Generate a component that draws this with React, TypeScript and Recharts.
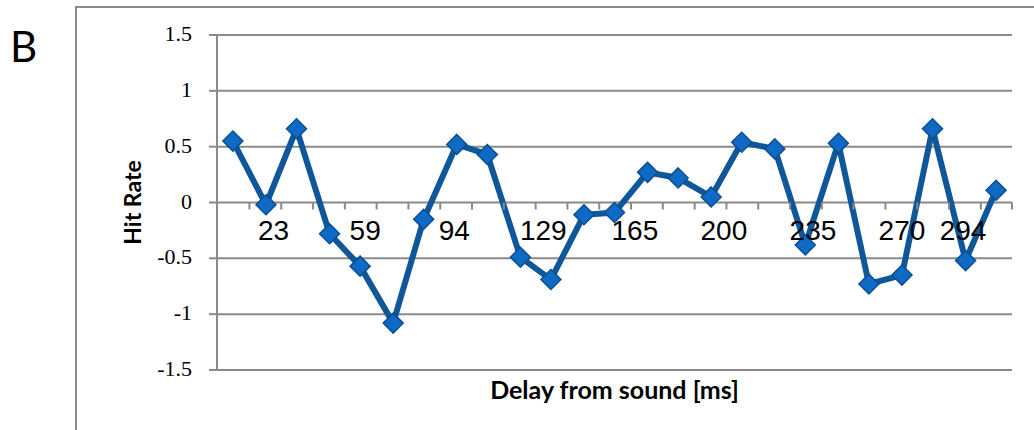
import React from "react";
import { LineChart, Line, XAxis, YAxis, CartesianGrid } from "recharts";

// delay bins (ms) and hit rate per bin
const delays = [7, 20, 32, 45, 57, 70, 82, 95, 107, 120, 132, 145, 157, 170, 182, 195, 207, 220, 232, 245, 257, 270, 282, 295, 307];
const hitRate = [0.55, -0.02, 0.66, -0.28, -0.57, -1.08, -0.15, 0.52, 0.43, -0.49, -0.69, -0.11, -0.09, 0.27, 0.22, 0.05, 0.54, 0.48, -0.38, 0.53, -0.73, -0.65, 0.66, -0.52, 0.11];
const xLabels = [23, 59, 94, 129, 165, 200, 235, 270, 294];
const yTicks = [-1.5, -1, -0.5, 0, 0.5, 1, 1.5];

const W = 1034;
const H = 430;
const MARGIN = { top: 35, right: 22, bottom: 30, left: 117 };
const X_AXIS_H = 30;
const PLOT_H = H - MARGIN.top - MARGIN.bottom - X_AXIS_H;
const GRID = "#8a8a8a";
const LINE = "#0f5799";

const data = delays.map((d, i) => ({ delay: d, hit: hitRate[i] }));

const step = (delays[delays.length - 1] - delays[0]) / (delays.length - 1);
const boundaries = delays.map((d, i) => (i < delays.length - 1 ? (d + delays[i + 1]) / 2 : d + step / 2));
const xTicks = [...boundaries, ...xLabels].sort((a, b) => a - b);
const labelSet = new Set(xLabels);

function XTick(props: any) {
  const { x, y, payload } = props;
  // the axis sits at y = 0, i.e. halfway up the plot
  const y0 = y - PLOT_H / 2;
  if (labelSet.has(payload.value)) {
    return (
      <text x={x} y={y0 + 37} textAnchor="middle" style={{ fontFamily: "'Liberation Sans', Arial, sans-serif", fontSize: 28 }} fill="#000">
        {payload.value}
      </text>
    );
  }
  return <line x1={x} x2={x} y1={y0} y2={y0 + 7} stroke={GRID} strokeWidth={2} />;
}

function YTick(props: any) {
  const { x, y, payload } = props;
  return (
    <text x={x} y={y + 6} textAnchor="end" style={{ fontFamily: "'Liberation Serif', 'DejaVu Serif', serif", fontSize: 22 }} fill="#000">
      {payload.value}
    </text>
  );
}

function Diamond(props: any) {
  const { cx, cy } = props;
  if (cx == null || cy == null) return null;
  const r = 10;
  return (
    <polygon
      points={`${cx},${cy - r} ${cx + r},${cy} ${cx},${cy + r} ${cx - r},${cy}`}
      fill="#0f6ac6"
      stroke="#0b4f8f"
      strokeWidth={1.5}
    />
  );
}

function YLabel(props: any) {
  const { viewBox } = props;
  const cx = viewBox.x + 15;
  const cy = viewBox.y + viewBox.height / 2;
  return (
    <text
      x={cx}
      y={cy}
      transform={`rotate(-90 ${cx} ${cy})`}
      textAnchor="middle"
      dominantBaseline="central"
      style={{ fontFamily: "Lato, sans-serif", fontWeight: "bold", fontSize: 23 }}
      fill="#000"
    >
      Hit Rate
    </text>
  );
}

function XLabel(props: any) {
  const { viewBox } = props;
  const cx = viewBox.x + viewBox.width / 2;
  return (
    <text
      x={cx}
      y={viewBox.y + 29}
      textAnchor="middle"
      style={{ fontFamily: "Lato, sans-serif", fontWeight: "bold", fontSize: 25 }}
      fill="#000"
    >
      Delay from sound [ms]
    </text>
  );
}

export default function App() {
  return (
    <div style={{ position: "absolute", left: 0, top: 0, width: W, height: H, background: "#fff", overflow: "hidden" }}>
      <div
        style={{
          position: "absolute",
          left: 75,
          top: 6,
          width: W,
          height: H,
          borderLeft: `2px solid ${GRID}`,
          borderTop: `2px solid ${GRID}`,
        }}
      />
      <svg width={80} height={80} style={{ position: "absolute", left: 0, top: 0 }}>
        <text x={10} y={62} style={{ fontFamily: "Lato, sans-serif", fontSize: 42 }} fill="#000">
          B
        </text>
      </svg>
      <div style={{ position: "absolute", left: 0, top: 0 }}>
        <LineChart width={W} height={H} data={data} margin={MARGIN}>
          <CartesianGrid vertical={false} stroke={GRID} strokeWidth={2} />
          <XAxis
            dataKey="delay"
            type="number"
            domain={[delays[0] - step / 2, delays[delays.length - 1] + step / 2]}
            ticks={xTicks}
            interval={0}
            tick={<XTick />}
            tickSize={0}
            tickMargin={0}
            axisLine={false}
            tickLine={false}
            height={X_AXIS_H}
            label={<XLabel />}
          />
          <YAxis
            domain={[-1.5, 1.5]}
            ticks={yTicks}
            width={100}
            tickSize={8}
            tickMargin={17}
            axisLine={{ stroke: GRID, strokeWidth: 2 }}
            tickLine={{ stroke: GRID, strokeWidth: 2 }}
            tick={<YTick />}
            label={<YLabel />}
          />
          <Line
            dataKey="hit"
            type="linear"
            stroke={LINE}
            strokeWidth={6}
            dot={<Diamond />}
            activeDot={false}
            isAnimationActive={false}
          />
        </LineChart>
      </div>
    </div>
  );
}
